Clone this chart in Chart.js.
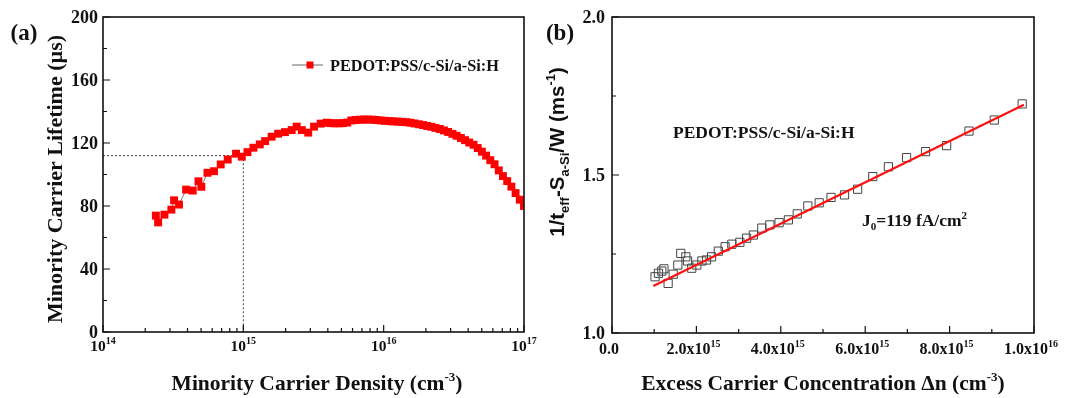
<!DOCTYPE html>
<html>
<head>
<meta charset="utf-8">
<script src="https://cdn.jsdelivr.net/npm/chart.js@4/dist/chart.umd.min.js"></script>
<style>
  html, body { margin: 0; padding: 0; background: #fff; }
  #wrap { position: relative; width: 1083px; height: 398px; }
  canvas { position: absolute; top: 0; }
  #cv-a { left: 0; }
  #cv-b { left: 541px; }
</style>
</head>
<body>
<div id="wrap">
  <canvas id="cv-a" width="541" height="398"></canvas>
  <canvas id="cv-b" width="542" height="398"></canvas>
</div>
<script>
// ── (a) lifetime vs minority carrier density ────────────────────────────────
const DENSITY = [
  2.38e14, 2.47e14, 2.74e14, 3.07e14, 3.21e14, 3.48e14, 3.91e14, 4.36e14, 4.79e14, 5.02e14,
  5.55e14, 6.18e14, 6.90e14, 7.74e14, 8.87e14, 9.75e14, 1.07e15, 1.18e15, 1.31e15, 1.43e15,
  1.59e15, 1.77e15, 1.98e15, 2.21e15, 2.40e15, 2.61e15, 2.90e15, 3.19e15, 3.56e15, 3.93e15,
  4.17e15, 4.47e15, 4.79e15, 5.13e15, 5.50e15, 5.89e15, 6.31e15, 6.76e15, 7.24e15, 7.76e15,
  8.32e15, 8.91e15, 9.55e15, 1.02e16, 1.10e16, 1.17e16, 1.26e16, 1.35e16, 1.45e16, 1.55e16,
  1.66e16, 1.78e16, 1.91e16, 2.04e16, 2.19e16, 2.34e16, 2.51e16, 2.69e16, 2.88e16, 3.09e16,
  3.31e16, 3.55e16, 3.80e16, 4.07e16, 4.37e16, 4.68e16, 5.01e16, 5.37e16, 5.75e16, 6.17e16,
  6.61e16, 7.08e16, 7.59e16, 8.13e16, 8.71e16, 9.33e16, 1.00e17,
];
const LIFETIME = [
  73.9, 69.6, 74.5, 77.7, 83.6, 80.9, 90.4, 89.8, 95.7, 92.2,
  101.1, 102.1, 106.4, 109.5, 113.2, 111.3, 114.2, 117.0, 119.1, 121.2,
  124.0, 125.9, 126.9, 128.2, 130.4, 128.2, 126.6, 130.4, 132.3, 132.9,
  132.6, 132.5, 132.5, 132.6, 133.0, 134.3, 134.6, 134.8, 134.9, 134.9,
  134.8, 134.6, 134.3, 134.1, 133.9, 133.7, 133.6, 133.4, 133.2, 132.9,
  132.4, 131.9, 131.4, 130.8, 130.3, 129.6, 128.9, 128.0, 127.0, 125.8,
  124.6, 123.2, 121.8, 120.3, 118.9, 116.8, 114.5, 112.0, 109.1, 106.5,
  102.6, 99.0, 95.8, 92.3, 88.2, 84.0, 80.0,
];
// guía: 112 µs a 1e15
const GUIDE_X = [1e14, 1e15, 1e15];
const GUIDE_Y = [112, 112, 0];

const A_Y_TICKS = [0, 40, 80, 120, 160, 200];
const A_Y_MINOR = [20, 60, 100, 140, 180];
const A_X_EXP   = [14, 15, 16, 17];

// ── (b) linear fit of inverse lifetime ───────────────────────────────────────
const EXCESS = [
  1.02e15, 1.10e15, 1.18e15, 1.23e15, 1.33e15, 1.45e15, 1.56e15, 1.63e15, 1.75e15, 1.79e15,
  1.89e15, 2.01e15, 2.13e15, 2.24e15, 2.36e15, 2.52e15, 2.68e15, 2.84e15, 3.03e15, 3.19e15,
  3.35e15, 3.55e15, 3.74e15, 3.96e15, 4.18e15, 4.39e15, 4.64e15, 4.91e15, 5.19e15, 5.51e15,
  5.82e15, 6.18e15, 6.55e15, 6.98e15, 7.43e15, 7.93e15, 8.46e15, 9.06e15, 9.72e15,
];
const INV_TAU = [
  1.178, 1.189, 1.196, 1.203, 1.157, 1.186, 1.215, 1.252, 1.241, 1.228,
  1.205, 1.215, 1.228, 1.231, 1.241, 1.259, 1.273, 1.281, 1.287, 1.300,
  1.310, 1.332, 1.342, 1.349, 1.358, 1.377, 1.402, 1.412, 1.429, 1.437,
  1.455, 1.495, 1.526, 1.555, 1.574, 1.593, 1.639, 1.674, 1.725,
];
const FIT_X = [0.98e15, 9.76e15];
const FIT_Y = [1.149, 1.722];

const B_Y_TICKS = [1.0, 1.5, 2.0];
const B_Y_MINOR = [1.25, 1.75];
const B_X_TICKS = [0, 2e15, 4e15, 6e15, 8e15, 1e16];
const B_X_LABELS = [['0.0'], ['2.0x10', '15'], ['4.0x10', '15'], ['6.0x10', '15'], ['8.0x10', '15'], ['1.0x10', '16']];
const B_X_MINOR = [1e15, 3e15, 5e15, 7e15, 9e15];

const SERIF = "'Liberation Serif', 'Times New Roman', serif";
const SANS  = "'Liberation Sans', Arial, sans-serif";

const pairs = (xs, ys) => xs.slice(0, Math.min(xs.length, ys.length)).map((x, i) => ({ x, y: ys[i] }));

// texto con sub/superíndices: parts = [{t, s:'sup'|'sub'}]
function rich(ctx, parts, x, y, size, family, align) {
  const fontOf = p => `bold ${p.s ? Math.round(size * 0.62) : size}px ${family}`;
  let w = 0;
  parts.forEach(p => { ctx.font = fontOf(p); w += ctx.measureText(p.t).width; });
  let cx = align === 'center' ? x - w / 2 : align === 'right' ? x - w : x;
  ctx.textAlign = 'left';
  ctx.textBaseline = 'alphabetic';
  parts.forEach(p => {
    ctx.font = fontOf(p);
    const dy = p.s === 'sup' ? -size * 0.42 : p.s === 'sub' ? size * 0.25 : 0;
    ctx.fillText(p.t, cx, y + dy);
    cx += ctx.measureText(p.t).width;
  });
}

function frameAndTicks(chart, xMajor, xMinor, yMajor, yMinor) {
  const { ctx, chartArea: a, scales: { x, y } } = chart;
  ctx.save();
  ctx.strokeStyle = '#111';
  ctx.lineWidth = 1.6;
  ctx.strokeRect(a.left, a.top, a.right - a.left, a.bottom - a.top);
  ctx.lineWidth = 1.2;
  ctx.beginPath();
  xMajor.forEach(v => { const px = x.getPixelForValue(v); ctx.moveTo(px, a.bottom); ctx.lineTo(px, a.bottom - 7); });
  xMinor.forEach(v => { const px = x.getPixelForValue(v); ctx.moveTo(px, a.bottom); ctx.lineTo(px, a.bottom - 4); });
  yMajor.forEach(v => { const py = y.getPixelForValue(v); ctx.moveTo(a.left, py); ctx.lineTo(a.left + 7, py); });
  yMinor.forEach(v => { const py = y.getPixelForValue(v); ctx.moveTo(a.left, py); ctx.lineTo(a.left + 4, py); });
  ctx.stroke();
  ctx.restore();
}

const baseOptions = (padding, xScale, yScale) => ({
  responsive: false,
  animation: false,
  events: [],
  layout: { padding },
  plugins: { legend: { display: false }, tooltip: { enabled: false } },
  scales: { x: xScale, y: yScale },
});

// ── Panel (a) ────────────────────────────────────────────────────────────────
const decorA = {
  id: 'decorA',
  afterDraw(chart) {
    const { ctx, chartArea: a, scales: { x, y } } = chart;
    const minor = [];
    [14, 15, 16].forEach(e => { for (let m = 2; m <= 9; m++) minor.push(m * Math.pow(10, e)); });
    frameAndTicks(chart, A_X_EXP.map(e => Math.pow(10, e)), minor, A_Y_TICKS, A_Y_MINOR);

    ctx.save();
    ctx.fillStyle = '#111';
    A_Y_TICKS.forEach(v => rich(ctx, [{ t: String(v) }], a.left - 5, y.getPixelForValue(v) + 6, 18, SERIF, 'right'));
    A_X_EXP.forEach(e => rich(ctx, [{ t: '10' }, { t: String(e), s: 'sup' }], x.getPixelForValue(Math.pow(10, e)), 351, 15.5, SERIF, 'center'));

    rich(ctx, [{ t: 'Minority Carrier Density (cm' }, { t: '-3', s: 'sup' }, { t: ')' }], 317, 390, 21.5, SERIF, 'center');
    ctx.save();
    ctx.translate(62, 179);
    ctx.rotate(-Math.PI / 2);
    rich(ctx, [{ t: 'Minority Carrier Lifetime (\u00b5s)' }], 0, 0, 22, SERIF, 'center');
    ctx.restore();

    rich(ctx, [{ t: '(a)' }], 24, 40, 23, SERIF, 'center');

    // leyenda
    ctx.strokeStyle = '#666';
    ctx.lineWidth = 1;
    ctx.beginPath(); ctx.moveTo(292, 65); ctx.lineTo(323, 65); ctx.stroke();
    ctx.fillStyle = '#ff0000';
    ctx.fillRect(306.5, 61.5, 7, 7);
    ctx.fillStyle = '#111';
    rich(ctx, [{ t: 'PEDOT:PSS/c-Si/a-Si:H' }], 330, 70.5, 16.3, SERIF, 'left');
    ctx.restore();
  }
};

new Chart(document.getElementById('cv-a'), {
  type: 'scatter',
  data: {
    datasets: [
      {
        data: pairs(DENSITY, LIFETIME),
        showLine: true,
        borderColor: '#777',
        borderWidth: 1,
        pointStyle: 'rect',
        pointRadius: 5.6,
        pointBackgroundColor: '#ff0000',
        pointBorderWidth: 0,
        order: 0,
      },
      {
        data: pairs(GUIDE_X, GUIDE_Y),
        showLine: true,
        borderColor: '#444',
        borderWidth: 1,
        borderDash: [2, 2],
        pointRadius: 0,
        order: 1,
      },
    ]
  },
  options: baseOptions(
    { left: 103, right: 17, top: 17, bottom: 66 },
    { type: 'logarithmic', min: 1e14, max: 1e17, display: false },
    { type: 'linear', min: 0, max: 200, display: false }
  ),
  plugins: [decorA],
});

// ── Panel (b) ────────────────────────────────────────────────────────────────
const decorB = {
  id: 'decorB',
  afterDraw(chart) {
    const { ctx, chartArea: a, scales: { x, y } } = chart;
    frameAndTicks(chart, B_X_TICKS, B_X_MINOR, B_Y_TICKS, B_Y_MINOR);

    ctx.save();
    ctx.fillStyle = '#111';
    B_Y_TICKS.forEach(v => rich(ctx, [{ t: v.toFixed(1) }], a.left - 7, y.getPixelForValue(v) + 6, 18, SERIF, 'right'));
    B_X_TICKS.forEach((v, i) => {
      const lab = B_X_LABELS[i];
      const parts = [{ t: lab[0] }];
      if (lab[1]) parts.push({ t: lab[1], s: 'sup' });
      rich(ctx, parts, x.getPixelForValue(v) - (lab[1] ? 3 : 3), 354, 16, SERIF, 'center');
    });

    rich(ctx, [{ t: 'Excess Carrier Concentration \u0394n (cm' }, { t: '-3', s: 'sup' }, { t: ')' }], 282, 390, 21.5, SERIF, 'center');

    ctx.save();
    ctx.translate(23, 152);
    ctx.rotate(-Math.PI / 2);
    rich(ctx, [
      { t: '1/t' }, { t: 'eff', s: 'sub' }, { t: '-S' }, { t: 'a-Si', s: 'sub' },
      { t: '/W (ms' }, { t: '-1', s: 'sup' }, { t: ')' },
    ], 0, 0, 20.5, SANS, 'center');
    ctx.restore();

    rich(ctx, [{ t: '(b)' }], 19, 40, 23, SERIF, 'center');

    rich(ctx, [{ t: 'PEDOT:PSS/c-Si/a-Si:H' }], 132, 138, 17.5, SERIF, 'left');
    rich(ctx, [{ t: 'J' }, { t: '0', s: 'sub' }, { t: '=119 fA/cm' }, { t: '2', s: 'sup' }], 321, 226, 17.5, SERIF, 'left');
    ctx.restore();
  }
};

new Chart(document.getElementById('cv-b'), {
  type: 'scatter',
  data: {
    datasets: [
      {
        data: pairs(FIT_X, FIT_Y),
        showLine: true,
        borderColor: '#ff1010',
        borderWidth: 2.2,
        pointRadius: 0,
        order: 0,
      },
      {
        data: pairs(EXCESS, INV_TAU),
        pointStyle: 'rect',
        pointRadius: 5.8,
        pointBackgroundColor: 'rgba(0,0,0,0)',
        pointBorderColor: '#444',
        pointBorderWidth: 1,
        order: 1,
      },
    ]
  },
  options: baseOptions(
    { left: 71, right: 49, top: 17, bottom: 65 },
    { type: 'linear', min: 0, max: 1e16, display: false },
    { type: 'linear', min: 1.0, max: 2.0, display: false }
  ),
  plugins: [decorB],
});
</script>
</body>
</html>
